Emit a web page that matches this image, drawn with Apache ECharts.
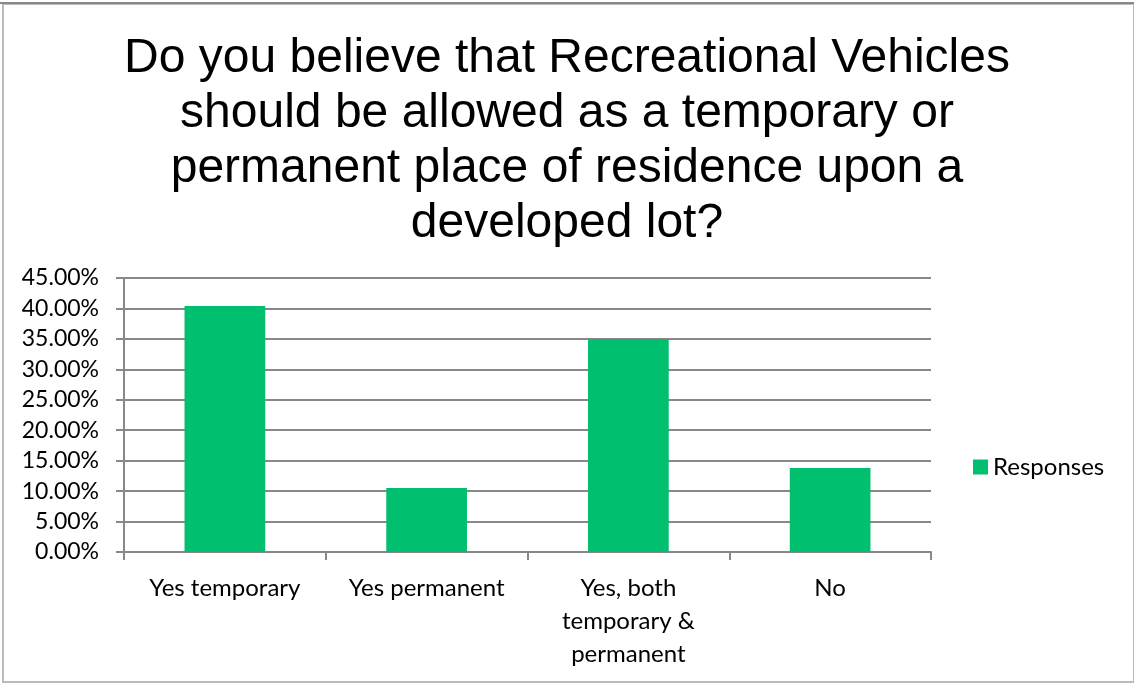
<!DOCTYPE html>
<html>
<head>
<meta charset="utf-8">
<script src="https://cdn.jsdelivr.net/npm/echarts@6/dist/echarts.min.js"></script>
<style>
  html, body { margin: 0; padding: 0; background: #fff; }
  #chart { width: 1134px; height: 684px; }
</style>
</head>
<body>
<div id="chart"></div>
<script>
const categories = ["Yes temporary", "Yes permanent", "Yes, both\ntemporary &\npermanent", "No"];
const responses = [0.404, 0.105, 0.35, 0.138];
const titleLines = [
  "Do you believe that Recreational Vehicles",
  "should be allowed as a temporary or",
  "permanent place of residence upon a",
  "developed lot?"
];

const chart = echarts.init(document.getElementById("chart"));

const option = {
  backgroundColor: "#fff",
  animation: false,
  title: {
    text: titleLines.join("\n"),
    left: "center",
    top: 26,
    textStyle: {
      fontFamily: "Liberation Sans, Arial, sans-serif",
      fontSize: 48,
      fontWeight: "normal",
      color: "#000",
      lineHeight: 55
    }
  },
  legend: {
    data: ["Responses"],
    orient: "vertical",
    left: 968,
    top: 450,
    icon: "rect",
    itemWidth: 15,
    itemHeight: 15,
    itemGap: 8,
    textStyle: { fontFamily: "Lato, sans-serif", fontSize: 24, color: "#000" }
  },
  grid: {
    left: 124,
    right: 203,
    top: 278,
    bottom: 132
  },
  xAxis: {
    type: "category",
    data: categories,
    axisLine: { lineStyle: { color: "#888", width: 2 } },
    axisTick: { show: true, length: 8, lineStyle: { color: "#888", width: 2 } },
    axisLabel: {
      interval: 0,
      margin: 20,
      fontFamily: "Lato, sans-serif",
      fontSize: 24,
      color: "#000",
      lineHeight: 33
    }
  },
  yAxis: {
    type: "value",
    min: 0,
    max: 0.45,
    interval: 0.05,
    axisLine: { show: true, lineStyle: { color: "#888", width: 2 } },
    axisTick: { show: true, length: 8, lineStyle: { color: "#888", width: 2 } },
    splitLine: { lineStyle: { color: "#888", width: 2 } },
    axisLabel: {
      margin: 25,
      fontFamily: "Lato, sans-serif",
      fontSize: 23,
      color: "#000",
      formatter: v => (v * 100).toFixed(2) + "%"
    }
  },
  series: [
    {
      name: "Responses",
      type: "bar",
      data: responses,
      barWidth: "40%",
      itemStyle: { color: "#00BF6F" }
    }
  ],
  graphic: [
    {
      type: "rect",
      shape: { x: 3, y: 4, width: 1131, height: 678 },
      style: { fill: "none", stroke: "#bbb", lineWidth: 2 },
      silent: true
    },
    {
      type: "line",
      shape: { x1: 0, y1: 3, x2: 1134, y2: 3 },
      style: { stroke: "#888", lineWidth: 2 },
      silent: true
    }
  ]
};

chart.setOption(option);
</script>
</body>
</html>
